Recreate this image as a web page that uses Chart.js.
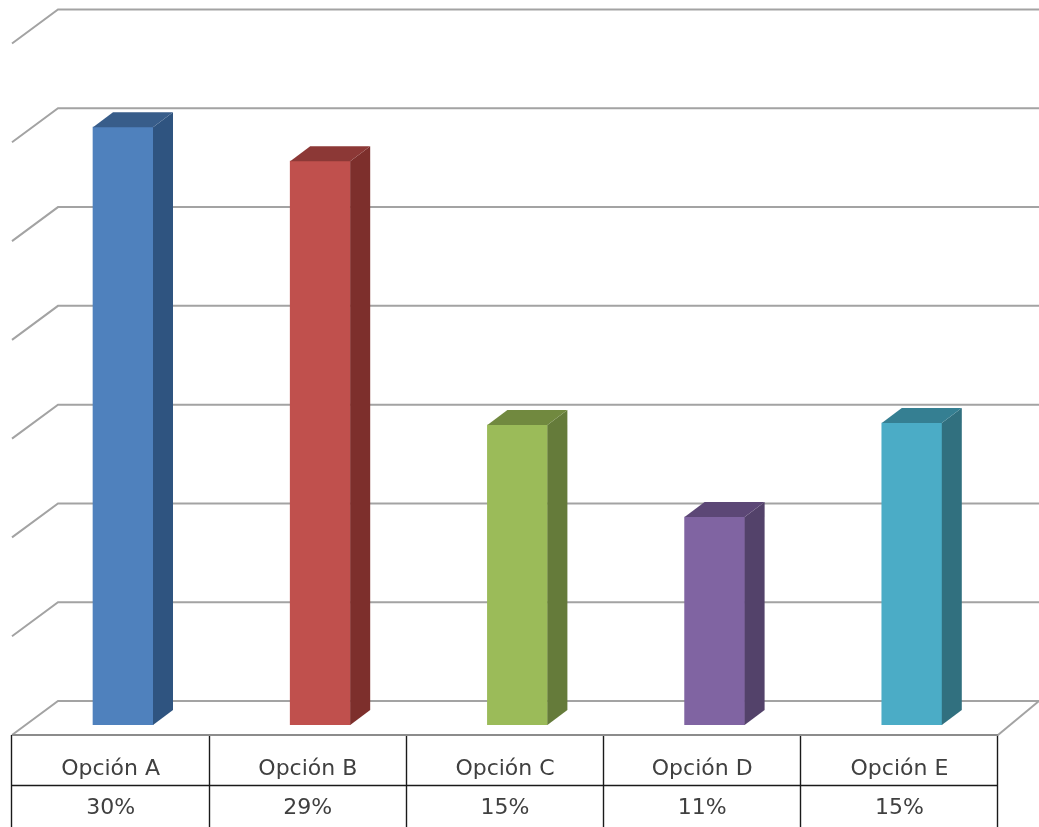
<!DOCTYPE html>
<html lang="es">
<head>
<meta charset="utf-8">
<title>Opciones</title>
<script src="https://cdn.jsdelivr.net/npm/chart.js@4/dist/chart.umd.min.js"></script>
<style>
  html, body { margin: 0; padding: 0; background: #fff; overflow: hidden; }
  #wrap { width: 1039px; height: 827px; }
</style>
</head>
<body>
<div id="wrap"><canvas id="grafico" width="1039" height="827"></canvas></div>
<script>
// Datos
const categorias = ['Opción A', 'Opción B', 'Opción C', 'Opción D', 'Opción E'];
const porcentajes = ['30%', '29%', '15%', '11%', '15%'];
const valores = [30.26, 28.54, 15.18, 10.53, 15.28];

// Colores de cada cara de la columna
const coloresFrente = ['#4f81bd', '#c0504d', '#9bbb59', '#8064a2', '#4bacc6'];
const coloresLado = ['#2f5480', '#7d2f2c', '#657b3a', '#53426a', '#31707f'];
const coloresArriba = ['#385d8a', '#8c3836', '#71893f', '#5c4776', '#357f92'];

// Geometria de la perspectiva (pixeles)
const paredX = 46, paredY = -34;      // esquina de la pared lateral
const fondoY = -24;                   // la pared del fondo respecto a la escala
const frenteY = 10;                   // extremo delantero de las diagonales
const columnaX = 12.4;                // desplazamiento de las columnas hacia el fondo
const profX = 20, profY = -15;        // profundidad de cada columna

const colorRejilla = '#a3a3a3';

function poligono(ctx, puntos, color) {
  ctx.fillStyle = color;
  ctx.beginPath();
  puntos.forEach((p, i) => i ? ctx.lineTo(p[0], p[1]) : ctx.moveTo(p[0], p[1]));
  ctx.closePath();
  ctx.fill();
}

// Paredes, suelo y tabla de datos
const paredes = {
  id: 'paredes',
  beforeDatasetsDraw(chart) {
    const { ctx, scales: { x, y } } = chart;
    ctx.save();
    ctx.strokeStyle = colorRejilla;
    ctx.lineWidth = 2;
    y.ticks.forEach(t => {
      const py = y.getPixelForValue(t.value);
      ctx.beginPath();
      ctx.moveTo(x.left, py + frenteY);
      ctx.lineTo(x.left + paredX, py + fondoY);
      ctx.lineTo(chart.width, py + fondoY);
      ctx.stroke();
    });
    // suelo: borde delantero y diagonal derecha
    const suelo = y.getPixelForValue(0) + frenteY;
    ctx.beginPath();
    ctx.moveTo(x.right, suelo);
    ctx.lineTo(x.right + 41, suelo + paredY);
    ctx.stroke();

    // lineas de la tabla
    const ancho = (x.right - x.left) / categorias.length;
    ctx.strokeStyle = '#1a1a1a';
    ctx.lineWidth = 1.4;
    for (let i = 0; i <= categorias.length; i++) {
      const lx = Math.round(x.left + i * ancho - 0.6) + 0.5;
      ctx.beginPath();
      ctx.moveTo(lx, suelo);
      ctx.lineTo(lx, chart.height);
      ctx.stroke();
    }
    ctx.beginPath();
    ctx.moveTo(x.left, 785.5);
    ctx.lineTo(x.right, 785.5);
    ctx.stroke();
    ctx.strokeStyle = '#8c8c8c';
    ctx.lineWidth = 2;
    ctx.beginPath();
    ctx.moveTo(x.left, suelo);
    ctx.lineTo(x.right, suelo);
    ctx.stroke();
    ctx.restore();

    // las columnas van algo hacia el fondo de la escala
    ctx.save();
    ctx.translate(columnaX, 0);
  },
  afterDatasetsDraw(chart) {
    const ctx = chart.ctx;
    chart.getDatasetMeta(0).data.forEach((b, i) => {
      const izq = b.x - b.width / 2, der = b.x + b.width / 2;
      poligono(ctx, [[der, b.y], [der + profX, b.y + profY], [der + profX, b.base + profY], [der, b.base]], coloresLado[i]);
      poligono(ctx, [[izq, b.y], [izq + profX, b.y + profY], [der + profX, b.y + profY], [der, b.y]], coloresArriba[i]);
    });
    ctx.restore();
  }
};

new Chart(document.getElementById('grafico'), {
  type: 'bar',
  data: {
    labels: categorias.map((c, i) => [c, porcentajes[i]]),
    datasets: [{
      data: valores,
      backgroundColor: coloresFrente,
      barThickness: 60
    }]
  },
  options: {
    responsive: false,
    animation: false,
    layout: { padding: { left: 12, right: 41, top: 33.5, bottom: 0 } },
    plugins: { legend: { display: false }, tooltip: { enabled: false } },
    scales: {
      x: {
        grid: { display: false },
        border: { display: false },
        afterFit(scale) { scale.height = 102; },
        ticks: {
          maxRotation: 0,
          autoSkip: false,
          padding: 17,
          color: '#404040',
          font: { family: '"DejaVu Sans"', size: 22, lineHeight: 1.77 }
        }
      },
      y: {
        display: false,
        min: 0,
        max: 35,
        ticks: { stepSize: 5 }
      }
    }
  },
  plugins: [paredes]
});
</script>
</body>
</html>
